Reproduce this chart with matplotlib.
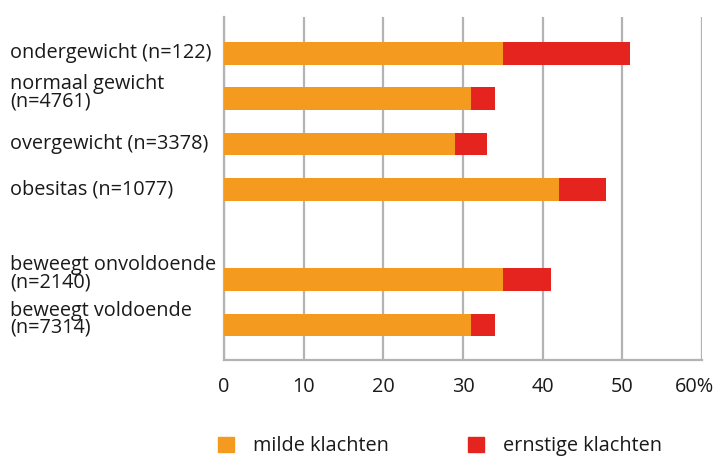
import matplotlib
matplotlib.use('Agg')
import matplotlib.pyplot as plt
from matplotlib.transforms import blended_transform_factory, ScaledTranslation
from matplotlib.patches import Patch

# Klachten per groep (percentage)
groepen = ['ondergewicht (n=122)', 'normaal gewicht\n(n=4761)', 'overgewicht (n=3378)',
           'obesitas (n=1077)', 'beweegt onvoldoende\n(n=2140)', 'beweegt voldoende\n(n=7314)']
posities = [0, 1, 2, 3, 5, 6]
milde = [35, 31, 29, 42, 35, 31]
ernstige = [16, 3, 4, 6, 6, 3]
xticks = [0, 10, 20, 30, 40, 50, 60]
xticklabels = ['0', '10', '20', '30', '40', '50', '60%']

oranje = '#F39A1F'
rood = '#E52420'
grijs = '#B3B3B6'
tekst = '#1a1a1a'

plt.rcParams['font.family'] = ['Open Sans', 'DejaVu Sans']
plt.rcParams['font.size'] = 14.3

fig = plt.figure(figsize=(7.17, 4.57), dpi=100)
ax = fig.add_axes([224 / 717, 1 - 360 / 457, (702 - 224) / 717, (360 - 17) / 457])

ax.barh(posities, milde, height=0.5, color=oranje, zorder=3)
ax.barh(posities, ernstige, left=milde, height=0.5, color=rood, zorder=3)

ax.set_xlim(0, 60)
ax.set_ylim(6.77, -0.8)
ax.set_xticks(xticks)
ax.set_xticklabels(xticklabels)
ax.set_yticks([])
ax.tick_params(axis='x', length=0, pad=12, colors=tekst)
ax.grid(axis='x', color=grijs, linewidth=1.6, zorder=0)
for kant in ['top', 'right']:
    ax.spines[kant].set_visible(False)
for kant in ['left', 'bottom']:
    ax.spines[kant].set_color(grijs)
    ax.spines[kant].set_linewidth(1.6)

# "60%" iets naar links zodat het binnen de figuur valt
laatste = ax.get_xticklabels()[-1]
laatste.set_transform(laatste.get_transform() + ScaledTranslation(-8 / 100, 0, fig.dpi_scale_trans))

# labels links uitgelijnd aan de rand van de figuur
trans = blended_transform_factory(fig.transFigure, ax.transData)
for pos, naam in zip(posities, groepen):
    dy = -0.13 if '\n' in naam else 0
    ax.text(10 / 717, pos + dy, naam, transform=trans, ha='left', va='center',
            color=tekst, linespacing=0.82)

handles = [Patch(color=oranje, label='milde klachten'),
           Patch(color=rood, label='ernstige klachten')]
leg = fig.legend(handles=handles, loc='center left', bbox_to_anchor=(218 / 717, 1 - 446 / 457),
                 ncol=2, frameon=False, borderpad=0, borderaxespad=0,
                 handlelength=0.8, handleheight=0.8, handletextpad=0.95, columnspacing=4.0)
for t in leg.get_texts():
    t.set_color(tekst)

fig.savefig('out.png', dpi=100)
